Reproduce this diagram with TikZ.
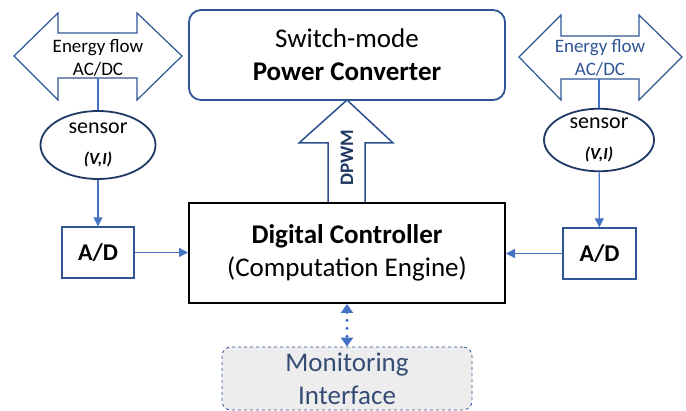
\documentclass[tikz,border=0pt]{standalone}
\usepackage{fontspec}
\setmainfont{Carlito}
\usepackage{xcolor}
\usepackage{tikz}
\usetikzlibrary{arrows.meta,shapes.geometric,positioning}
\definecolor{convblue}{HTML}{2F5597}
\definecolor{lineblue}{HTML}{4472C4}
\definecolor{navyblue}{HTML}{1F3864}
\definecolor{monfill}{HTML}{EDEDED}
\tikzstyle{ctrlblock} = [rectangle, draw=black, line width=2pt, inner sep=0pt,
    minimum width=316pt, minimum height=100pt, align=center]
\tikzstyle{convblock} = [rectangle, draw=convblue, line width=1.8pt, rounded corners=12pt,
    inner sep=0pt, minimum width=316pt, minimum height=90pt, align=center]
\tikzstyle{adblock} = [rectangle, draw=convblue, line width=1.4pt, inner sep=0pt,
    minimum width=72pt, minimum height=51pt, font=\fontsize{24}{28}\selectfont\bfseries]
\tikzstyle{sensorcloud} = [ellipse, draw=navyblue, line width=1.8pt, inner sep=0pt,
    align=center, fill=white, font=\fontsize{22}{31}\selectfont]
\tikzstyle{monblock} = [rectangle, draw=convblue, dashed, line width=0.8pt, fill=monfill,
    rounded corners=9pt, inner sep=0pt, minimum width=250pt, minimum height=63pt,
    align=center, text=navyblue!90!white, font=\fontsize{27}{33}\selectfont]
\tikzstyle{flowarrow} = [draw=convblue, line width=1.2pt, fill=white]
\tikzstyle{line} = [draw=lineblue, line width=1.2pt, -{Triangle[length=9pt,width=9pt]}]
\tikzstyle{wire} = [draw=lineblue, line width=1.2pt]
\tikzstyle{dotline} = [draw=lineblue, line width=3.4pt, line cap=round, dash pattern=on 0pt off 8pt,
    {Triangle[length=9pt,width=12pt]}-{Triangle[length=9pt,width=12pt]}]

\begin{document}
\begin{tikzpicture}[x=1pt, y=-1pt]
\useasboundingbox (0,0) rectangle (686,411);
    % Energy flow arrows
    \path [flowarrow] (14,56) -- (58,13) -- (58,33) -- (137,33) -- (137,13) -- (182,56)
        -- (137,100) -- (137,78) -- (58,78) -- (58,100) -- cycle;
    \path [flowarrow] (519,57) -- (561,15) -- (561,36) -- (639,36) -- (639,15) -- (682,57)
        -- (639,100) -- (639,79) -- (561,79) -- (561,100) -- cycle;
    \node [align=center, font=\fontsize{19}{23}\selectfont] (flowL) at (98,58) {Energy flow\\AC/DC};
    \node [align=center, font=\fontsize{19}{23}\selectfont, text=convblue] (flowR) at (600,58) {Energy flow\\AC/DC};
    \coordinate (flowLb) at (98,78);
    \coordinate (flowRb) at (599,79);

    % DPWM arrow
    \path [flowarrow, draw=convblue!80!navyblue, line width=1.5pt] (347,100) -- (393,143) -- (365,143)
        -- (365,203) -- (328,203) -- (328,143) -- (299,143) -- cycle;
    \node [rotate=90, text=navyblue, font=\fontsize{19}{22}\selectfont\bfseries] (dpwm) at (347,158) {DPWM};

    % Place nodes
    \node [convblock, font=\fontsize{27}{33}\selectfont] (conv) at (347,55)
        {Switch-mode\\\textbf{Power Converter}};
    \node [ctrlblock, font=\fontsize{27}{33}\selectfont] (ctrl) at (347,253)
        {\textbf{Digital Controller}\\(Computation Engine)};
    \node [sensorcloud, minimum width=115pt, minimum height=68pt] (senL) at (98,145)
        {sensor\\{\fontsize{17}{31}\selectfont\bfseries\itshape (V,I)}};
    \node [sensorcloud, minimum width=110pt, minimum height=60pt] (senR) at (599,140)
        {sensor\\{\fontsize{17}{31}\selectfont\bfseries\itshape (V,I)}};
    \node [adblock] (adL) at (98,252.5) {A/D};
    \node [adblock, minimum width=73pt] (adR) at (599.5,253.5) {A/D};
    \node [monblock] (mon) at (347,378.5) {Monitoring\\Interface};

    % Draw edges
    \path [wire] (flowLb) -- (senL);
    \path [wire] (flowRb) -- (senR);
    \path [line] (senL) -- (adL);
    \path [line] (senR) -- (adR);
    \path [line] (adL) -- (ctrl.west |- adL);
    \path [line] (adR) -- (ctrl.east |- adR);
    \path [dotline] (ctrl.south) -- (mon.north);

\end{tikzpicture}
\end{document}
